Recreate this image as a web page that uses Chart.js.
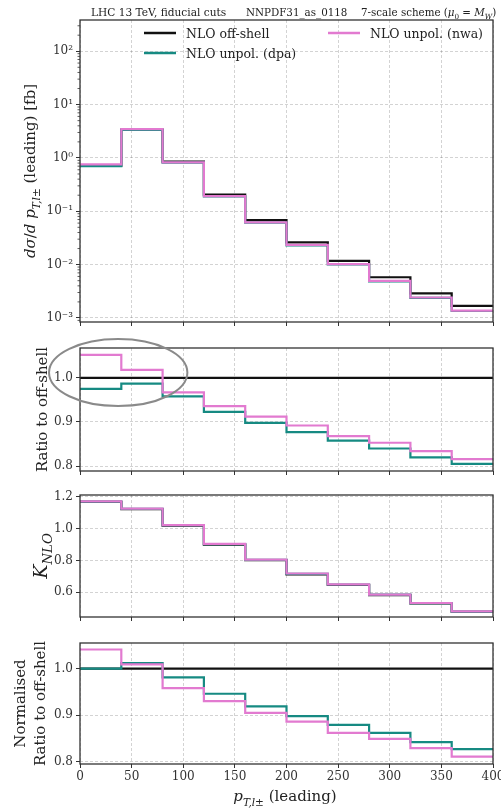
<!DOCTYPE html>
<html>
<head>
<meta charset="utf-8">
<script src="https://cdn.jsdelivr.net/npm/chart.js@4.4.0/dist/chart.umd.min.js"></script>
<style>
  body { margin: 0; background: #fff; }
  #wrap { position: relative; width: 501px; height: 808px; }
  #wrap canvas { position: absolute; left: 0; }
</style>
</head>
<body>
<div id="wrap">
  <canvas id="c1" width="501" height="330" style="top:0px"></canvas>
  <canvas id="c2" width="501" height="148" style="top:330px"></canvas>
  <canvas id="c3" width="501" height="147" style="top:478px"></canvas>
  <canvas id="c4" width="501" height="183" style="top:625px"></canvas>
</div>
<script>
// bins in p_T (GeV)
var binEdges = [0, 40, 80, 120, 160, 200, 240, 280, 320, 360, 400];
var xTicks = [0, 50, 100, 150, 200, 250, 300, 350, 400];

// top panel: dsigma/dpT [fb]
var offshellXs = [0.72, 3.40, 0.850, 0.205, 0.0680, 0.0262, 0.0118, 0.00580, 0.00290, 0.00168];
var dpaXs      = [0.70, 3.35, 0.815, 0.189, 0.0610, 0.0230, 0.0101, 0.00487, 0.00238, 0.00135];
var nwaXs      = [0.757, 3.46, 0.822, 0.192, 0.0620, 0.0234, 0.0102, 0.00495, 0.00242, 0.00137];
var logTicks = [1e-3, 1e-2, 1e-1, 1, 10, 100];
var logTickLabels = ['10\u207B\u00B3', '10\u207B\u00B2', '10\u207B\u00B9', '10\u2070', '10\u00B9', '10\u00B2'];

// ratio to off-shell
var offshellRatio = [1, 1, 1, 1, 1, 1, 1, 1, 1, 1];
var dpaRatio = [0.975, 0.987, 0.958, 0.923, 0.898, 0.877, 0.858, 0.840, 0.820, 0.805];
var nwaRatio = [1.052, 1.018, 0.967, 0.936, 0.912, 0.892, 0.868, 0.853, 0.834, 0.816];
var ratioTicks = [0.8, 0.9, 1.0];

// K factor
var offshellK = [1.168, 1.122, 1.019, 0.900, 0.802, 0.712, 0.646, 0.582, 0.530, 0.478];
var dpaK      = [1.170, 1.124, 1.021, 0.903, 0.804, 0.716, 0.649, 0.585, 0.532, 0.479];
var nwaK      = [1.171, 1.125, 1.022, 0.904, 0.805, 0.718, 0.650, 0.586, 0.533, 0.480];
var kTicks = [0.6, 0.8, 1.0, 1.2];

// normalised ratio
var offshellNorm = [1, 1, 1, 1, 1, 1, 1, 1, 1, 1];
var dpaNorm = [1.000, 1.012, 0.981, 0.946, 0.919, 0.898, 0.879, 0.862, 0.842, 0.827];
var nwaNorm = [1.041, 1.009, 0.958, 0.930, 0.905, 0.886, 0.862, 0.849, 0.829, 0.811];
var normTicks = [0.8, 0.9, 1.0];

var seriesLabels = ['NLO off-shell', 'NLO unpol. (dpa)', 'NLO unpol. (nwa)'];
var seriesColors = ['#111111', '#168a82', '#e27ad0'];

// highlight ellipse in ratio panel (data units)
var ellipseCenter = [37, 1.012];
var ellipseRadii = [67, 0.076];

var SERIF = '"DejaVu Serif", serif';

function steps(vals) {
    var pts = [];
    for (var i = 0; i < vals.length; i++) pts.push({x: binEdges[i], y: vals[i]});
    pts.push({x: binEdges[vals.length], y: vals[vals.length - 1]});
    return pts;
}

function makeDatasets(a, b, c) {
    var vals = [a, b, c];
    return vals.map(function (v, i) {
        return {
            label: seriesLabels[i],
            data: steps(v),
            borderColor: seriesColors[i],
            backgroundColor: seriesColors[i],
            borderWidth: 2.2,
            pointRadius: 0,
            stepped: 'before',
            fill: false,
            order: 2 - i
        };
    });
}

// rich text: parts = [[text, style]] style: '' | 'i' | 'sub' | 'isub'
function drawRich(ctx, parts, x, y, size, align, rotate) {
    ctx.save();
    ctx.translate(x, y);
    if (rotate) ctx.rotate(-Math.PI / 2);
    ctx.fillStyle = '#222';
    ctx.textBaseline = 'alphabetic';
    ctx.textAlign = 'left';
    var fonts = [], widths = [], total = 0;
    parts.forEach(function (p) {
        var st = p[1] || '';
        var sz = st.indexOf('sub') >= 0 ? size * 0.7 : size;
        var f = (st.indexOf('i') === 0 ? 'italic ' : '') + sz + 'px ' + SERIF;
        ctx.font = f;
        var w = ctx.measureText(p[0]).width;
        fonts.push(f); widths.push(w); total += w;
    });
    var cx = align === 'center' ? -total / 2 : 0;
    var base = rotate ? size * 0.35 : 0;
    parts.forEach(function (p, i) {
        var st = p[1] || '';
        ctx.font = fonts[i];
        ctx.fillText(p[0], cx, base + (st.indexOf('sub') >= 0 ? size * 0.3 : 0));
        cx += widths[i];
    });
    ctx.restore();
}

var framePlugin = {
    id: 'frame',
    afterDraw: function (chart) {
        var a = chart.chartArea, ctx = chart.ctx;
        ctx.save();
        ctx.strokeStyle = '#333';
        ctx.lineWidth = 1.3;
        ctx.strokeRect(a.left, a.top, a.right - a.left, a.bottom - a.top);
        ctx.restore();
    }
};

function labelPlugin(fn) {
    return { id: 'labels', afterDraw: function (chart) { fn(chart, chart.ctx); } };
}

function panelOptions(o) {
    return {
        responsive: false,
        animation: false,
        layout: { padding: { top: o.padTop, right: 8, left: 0, bottom: 0 } },
        plugins: { legend: { display: false }, tooltip: { enabled: false }, title: { display: false } },
        scales: {
            x: {
                type: 'linear', min: 0, max: 400,
                afterBuildTicks: function (s) { s.ticks = xTicks.map(function (v) { return {value: v}; }); },
                ticks: { display: o.xLabels, color: '#333', padding: 2, font: { family: SERIF, size: 12 } },
                grid: { color: 'rgba(0,0,0,0.22)', lineWidth: 0.8, tickColor: '#333', tickLength: 4, tickWidth: 1 },
                border: { display: false, dash: [3, 2] },
                afterFit: function (s) { s.height = o.xHeight; s.paddingLeft = 0; s.paddingRight = 0; }
            },
            y: {
                type: o.yType || 'linear', min: o.yMin, max: o.yMax,
                afterBuildTicks: function (s) { s.ticks = o.yTicks.map(function (v) { return {value: v}; }); },
                ticks: {
                    color: '#333', padding: 3, font: { family: SERIF, size: 12 },
                    callback: o.yLabel
                },
                grid: { color: 'rgba(0,0,0,0.22)', lineWidth: 0.8, tickColor: '#333', tickLength: 4, tickWidth: 1 },
                border: { display: false, dash: [3, 2] },
                afterFit: function (s) { s.width = 80; s.paddingTop = 0; s.paddingBottom = 0; }
            }
        }
    };
}

function fixed1(v) { return v.toFixed(1); }

// panel 1: cross sections
new Chart(document.getElementById('c1'), {
    type: 'line',
    data: { datasets: makeDatasets(offshellXs, dpaXs, nwaXs) },
    options: panelOptions({
        padTop: 20, xHeight: 8, xLabels: false, yType: 'logarithmic',
        yMin: 8.4e-4, yMax: 385, yTicks: logTicks,
        yLabel: function (v, i) { return logTickLabels[i]; }
    }),
    plugins: [framePlugin, labelPlugin(function (chart, ctx) {
        var a = chart.chartArea, y = chart.scales.y;
        // minor log ticks
        ctx.save();
        ctx.strokeStyle = '#333';
        ctx.lineWidth = 0.8;
        for (var d = -4; d <= 2; d++) {
            for (var k = 2; k <= 9; k++) {
                var py = y.getPixelForValue(k * Math.pow(10, d));
                if (py < a.top || py > a.bottom) continue;
                ctx.beginPath();
                ctx.moveTo(a.left - 2.5, py);
                ctx.lineTo(a.left, py);
                ctx.stroke();
            }
        }
        ctx.restore();
        // title line
        drawRich(ctx, [['LHC 13 TeV, fiducial cuts']], 91, 16, 10.6, 'left');
        drawRich(ctx, [['NNPDF31_as_0118']], 246, 16, 10.3, 'left');
        drawRich(ctx, [['7-scale scheme ('], ['\u03BC', 'i'], ['0', 'sub'], [' = '], ['M', 'i'], ['W', 'isub'], [')']], 361, 16, 10.3, 'left');
        // legend
        var cols = [144, 328], rows = [33, 53];
        chart.data.datasets.forEach(function (ds, i) {
            var lx = cols[Math.floor(i / 2)], ly = rows[i % 2];
            ctx.save();
            ctx.strokeStyle = ds.borderColor;
            ctx.lineWidth = 2.5;
            ctx.beginPath();
            ctx.moveTo(lx, ly);
            ctx.lineTo(lx + 32, ly);
            ctx.stroke();
            ctx.restore();
            drawRich(ctx, [[ds.label]], lx + 42, ly + 4.5, 12.5, 'left');
        });
        // y-axis title
        drawRich(ctx, [['d\u03C3', 'i'], ['/'], ['d', 'i'], [' '], ['p', 'i'], ['T,l\u00B1', 'isub'], [' (leading) [fb]']],
            30, (a.top + a.bottom) / 2, 15, 'center', true);
    })]
});

// panel 2: ratio to off-shell
new Chart(document.getElementById('c2'), {
    type: 'line',
    data: { datasets: makeDatasets(offshellRatio, dpaRatio, nwaRatio) },
    options: panelOptions({
        padTop: 18, xHeight: 7, xLabels: false,
        yMin: 0.789, yMax: 1.0675, yTicks: ratioTicks, yLabel: fixed1
    }),
    plugins: [framePlugin, labelPlugin(function (chart, ctx) {
        var a = chart.chartArea, xs = chart.scales.x, ys = chart.scales.y;
        var cx = xs.getPixelForValue(ellipseCenter[0]);
        var cy = ys.getPixelForValue(ellipseCenter[1]);
        var rx = xs.getPixelForValue(ellipseCenter[0] + ellipseRadii[0]) - cx;
        var ry = cy - ys.getPixelForValue(ellipseCenter[1] + ellipseRadii[1]);
        ctx.save();
        ctx.strokeStyle = '#8a8a8a';
        ctx.lineWidth = 2;
        ctx.beginPath();
        ctx.ellipse(cx, cy, rx, ry, 0, 0, Math.PI * 2);
        ctx.stroke();
        ctx.restore();
        drawRich(ctx, [['Ratio to off-shell']], 42, (a.top + a.bottom) / 2, 15, 'center', true);
    })]
});

// panel 3: K factor
new Chart(document.getElementById('c3'), {
    type: 'line',
    data: { datasets: makeDatasets(offshellK, dpaK, nwaK) },
    options: panelOptions({
        padTop: 17, xHeight: 8, xLabels: false,
        yMin: 0.445, yMax: 1.211, yTicks: kTicks, yLabel: fixed1
    }),
    plugins: [framePlugin, labelPlugin(function (chart, ctx) {
        var a = chart.chartArea;
        drawRich(ctx, [['K', 'i'], ['NLO', 'isub']], 40, (a.top + a.bottom) / 2, 19, 'center', true);
    })]
});

// panel 4: normalised ratio
new Chart(document.getElementById('c4'), {
    type: 'line',
    data: { datasets: makeDatasets(offshellNorm, dpaNorm, nwaNorm) },
    options: panelOptions({
        padTop: 18, xHeight: 44, xLabels: true,
        yMin: 0.795, yMax: 1.055, yTicks: normTicks, yLabel: fixed1
    }),
    plugins: [framePlugin, labelPlugin(function (chart, ctx) {
        var a = chart.chartArea;
        var mid = (a.top + a.bottom) / 2;
        drawRich(ctx, [['Normalised']], 20, mid, 15, 'center', true);
        drawRich(ctx, [['Ratio to off-shell']], 40, mid, 15, 'center', true);
        drawRich(ctx, [['p', 'i'], ['T,l\u00B1', 'isub'], [' (leading)']], 285, a.bottom + 37, 15, 'center');
    })]
});
</script>
</body>
</html>
